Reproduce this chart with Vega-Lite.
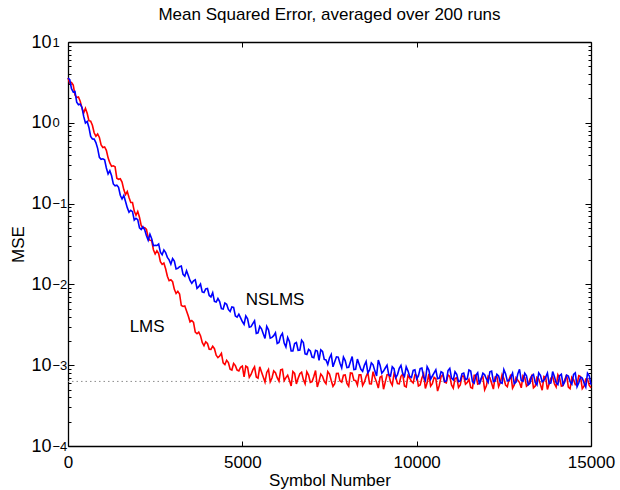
{
"$schema": "https://vega.github.io/schema/vega-lite/v6.json",
"width": 523, "height": 404,
"autosize": {"type": "none"},
"padding": {"left": 68, "top": 42, "right": 29, "bottom": 44},
"background": "white",
"config": {
 "view": {"stroke": null},
 "font": "Liberation Sans",
 "axis": {"labelFont": "Liberation Sans", "titleFont": "Liberation Sans", "labelColor": "black", "titleColor": "black", "domainColor": "black", "tickColor": "black", "grid": false, "labelFontSize": 17, "titleFontSize": 17, "titleFontWeight": "normal", "domainWidth": 1.3, "tickWidth": 1, "labelOverlap": false, "labelFlush": false, "labelBound": false}
},
"title": {"text": "Mean Squared Error, averaged over 200 runs", "fontSize": 17, "fontWeight": "normal", "font": "Liberation Sans", "color": "black", "anchor": "middle", "frame": "group", "offset": 3, "baseline": "bottom", "dy": 11},
"datasets": {
 "floor": [{"v": 0.00063}],
 "labels": [{"x": 2270, "y": 0.0030, "t": "LMS"}, {"x": 5940, "y": 0.0065, "t": "NSLMS"}],
 "curves": [
{"x":0,"lms":3.59,"nslms":3.59},{"x":100,"lms":3.16,"nslms":2.64},{"x":200,"lms":2.21,"nslms":2.44},{"x":300,"lms":2.09,"nslms":1.67},{"x":400,"lms":1.53,"nslms":1.55},{"x":500,"lms":1.51,"nslms":0.993},{"x":600,"lms":1.06,"nslms":0.877},{"x":700,"lms":0.931,"nslms":0.631},{"x":800,"lms":0.682,"nslms":0.570},{"x":900,"lms":0.659,"nslms":0.374},
{"x":1000,"lms":0.494,"nslms":0.359},{"x":1100,"lms":0.456,"nslms":0.276},{"x":1200,"lms":0.319,"nslms":0.255},{"x":1300,"lms":0.294,"nslms":0.175},{"x":1400,"lms":0.206,"nslms":0.169},{"x":1500,"lms":0.203,"nslms":0.127},{"x":1600,"lms":0.149,"nslms":0.126},{"x":1700,"lms":0.141,"nslms":0.0891},{"x":1800,"lms":0.103,"nslms":0.0826},{"x":1900,"lms":0.0809,"nslms":0.0624},
{"x":2000,"lms":0.0800,"nslms":0.0634},{"x":2100,"lms":0.0535,"nslms":0.0479},{"x":2200,"lms":0.0505,"nslms":0.0475},{"x":2300,"lms":0.0378,"nslms":0.0352},{"x":2400,"lms":0.0349,"nslms":0.0367},{"x":2500,"lms":0.0238,"nslms":0.0305},{"x":2600,"lms":0.0241,"nslms":0.0316},{"x":2700,"lms":0.0177,"nslms":0.0233},{"x":2800,"lms":0.0156,"nslms":0.0248},{"x":2900,"lms":0.0111,"nslms":0.0201},
{"x":3000,"lms":0.0108,"nslms":0.0209},{"x":3100,"lms":0.00771,"nslms":0.0155},{"x":3200,"lms":0.00762,"nslms":0.0166},{"x":3300,"lms":0.00533,"nslms":0.0133},{"x":3400,"lms":0.00470,"nslms":0.0148},{"x":3500,"lms":0.00344,"nslms":0.0112},{"x":3600,"lms":0.00339,"nslms":0.0111},{"x":3700,"lms":0.00245,"nslms":0.00891},{"x":3800,"lms":0.00232,"nslms":0.0101},{"x":3900,"lms":0.00174,"nslms":0.00794},
{"x":4000,"lms":0.00186,"nslms":0.00891},{"x":4100,"lms":0.00157,"nslms":0.00700},{"x":4200,"lms":0.00160,"nslms":0.00617},{"x":4300,"lms":0.00124,"nslms":0.00668},{"x":4400,"lms":0.00140,"nslms":0.00501},{"x":4500,"lms":0.00102,"nslms":0.00589},{"x":4600,"lms":0.00108,"nslms":0.00490},{"x":4700,"lms":0.000871,"nslms":0.00525},{"x":4800,"lms":0.000989,"nslms":0.00407},{"x":4900,"lms":0.000851,"nslms":0.00427},
{"x":5000,"lms":0.000977,"nslms":0.00347},{"x":5100,"lms":0.000977,"nslms":0.00407},{"x":5200,"lms":0.000708,"nslms":0.00295},{"x":5300,"lms":0.000875,"nslms":0.00327},{"x":5400,"lms":0.000716,"nslms":0.00248},{"x":5500,"lms":0.000955,"nslms":0.00302},{"x":5600,"lms":0.000716,"nslms":0.00245},{"x":5700,"lms":0.000813,"nslms":0.00302},{"x":5800,"lms":0.000624,"nslms":0.00216},{"x":5900,"lms":0.000851,"nslms":0.00232},
{"x":6000,"lms":0.000700,"nslms":0.00186},{"x":6100,"lms":0.000875,"nslms":0.00229},{"x":6200,"lms":0.000644,"nslms":0.00188},{"x":6300,"lms":0.000752,"nslms":0.00221},{"x":6400,"lms":0.000553,"nslms":0.00150},{"x":6500,"lms":0.000794,"nslms":0.00186},{"x":6600,"lms":0.000687,"nslms":0.00153},{"x":6700,"lms":0.000820,"nslms":0.00204},{"x":6800,"lms":0.000590,"nslms":0.00138},{"x":6900,"lms":0.000755,"nslms":0.00157},
{"x":7000,"lms":0.000624,"nslms":0.00126},{"x":7100,"lms":0.000859,"nslms":0.00153},{"x":7200,"lms":0.000635,"nslms":0.00115},{"x":7300,"lms":0.000728,"nslms":0.00148},{"x":7400,"lms":0.000590,"nslms":0.00116},{"x":7500,"lms":0.000776,"nslms":0.00123},{"x":7600,"lms":0.000548,"nslms":0.000955},{"x":7700,"lms":0.000791,"nslms":0.00127},{"x":7800,"lms":0.000641,"nslms":0.00106},{"x":7900,"lms":0.000752,"nslms":0.00126},
{"x":8000,"lms":0.000596,"nslms":0.000933},{"x":8100,"lms":0.000802,"nslms":0.00110},{"x":8200,"lms":0.000650,"nslms":0.000881},{"x":8300,"lms":0.000565,"nslms":0.00119},{"x":8400,"lms":0.000760,"nslms":0.000891},{"x":8500,"lms":0.000617,"nslms":0.00100},{"x":8600,"lms":0.000811,"nslms":0.000804},{"x":8700,"lms":0.000586,"nslms":0.00107},{"x":8800,"lms":0.000703,"nslms":0.000851},{"x":8900,"lms":0.000520,"nslms":0.00116},
{"x":9000,"lms":0.000733,"nslms":0.000794},{"x":9100,"lms":0.000622,"nslms":0.000923},{"x":9200,"lms":0.000764,"nslms":0.000759},{"x":9300,"lms":0.000565,"nslms":0.000955},{"x":9400,"lms":0.000710,"nslms":0.000700},{"x":9500,"lms":0.000589,"nslms":0.000912},{"x":9600,"lms":0.000776,"nslms":0.000785},{"x":9700,"lms":0.000537,"nslms":0.000955},{"x":9800,"lms":0.000692,"nslms":0.000724},{"x":9900,"lms":0.000603,"nslms":0.000861},
{"x":10000,"lms":0.000750,"nslms":0.000676},{"x":10100,"lms":0.000568,"nslms":0.000906},{"x":10200,"lms":0.000782,"nslms":0.000714},{"x":10300,"lms":0.000605,"nslms":0.000957},{"x":10400,"lms":0.000551,"nslms":0.000673},{"x":10500,"lms":0.000708,"nslms":0.000804},{"x":10600,"lms":0.000479,"nslms":0.000679},{"x":10700,"lms":0.000724,"nslms":0.000830},{"x":10800,"lms":0.000617,"nslms":0.000625},{"x":10900,"lms":0.000759,"nslms":0.000857},
{"x":11000,"lms":0.000569,"nslms":0.000692},{"x":11100,"lms":0.000684,"nslms":0.000828},{"x":11200,"lms":0.000531,"nslms":0.000625},{"x":11300,"lms":0.000733,"nslms":0.000783},{"x":11400,"lms":0.000582,"nslms":0.000664},{"x":11500,"lms":0.000668,"nslms":0.000871},{"x":11600,"lms":0.000519,"nslms":0.000628},{"x":11700,"lms":0.000750,"nslms":0.000752},{"x":11800,"lms":0.000596,"nslms":0.000581},{"x":11900,"lms":0.000716,"nslms":0.000798},
{"x":12000,"lms":0.000556,"nslms":0.000676},{"x":12100,"lms":0.000700,"nslms":0.000830},{"x":12200,"lms":0.000507,"nslms":0.000628},{"x":12300,"lms":0.000733,"nslms":0.000771},{"x":12400,"lms":0.000610,"nslms":0.000611},{"x":12500,"lms":0.000684,"nslms":0.000881},{"x":12600,"lms":0.000543,"nslms":0.000637},{"x":12700,"lms":0.000767,"nslms":0.000713},{"x":12800,"lms":0.000569,"nslms":0.000592},{"x":12900,"lms":0.000653,"nslms":0.000778},
{"x":13000,"lms":0.000525,"nslms":0.000646},{"x":13100,"lms":0.000708,"nslms":0.000793},{"x":13200,"lms":0.000575,"nslms":0.000573},{"x":13300,"lms":0.000741,"nslms":0.000736},{"x":13400,"lms":0.000550,"nslms":0.000611},{"x":13500,"lms":0.000676,"nslms":0.000804},{"x":13600,"lms":0.000490,"nslms":0.000622},{"x":13700,"lms":0.000708,"nslms":0.000713},{"x":13800,"lms":0.000589,"nslms":0.000592},{"x":13900,"lms":0.000724,"nslms":0.000834},
{"x":14000,"lms":0.000537,"nslms":0.000603},{"x":14100,"lms":0.000692,"nslms":0.000740},{"x":14200,"lms":0.000562,"nslms":0.000573},{"x":14300,"lms":0.000759,"nslms":0.000753},{"x":14400,"lms":0.000513,"nslms":0.000625},{"x":14500,"lms":0.000661,"nslms":0.000767},{"x":14600,"lms":0.000575,"nslms":0.000542},{"x":14700,"lms":0.000724,"nslms":0.000713},{"x":14800,"lms":0.000550,"nslms":0.000605},{"x":14900,"lms":0.000676,"nslms":0.000796},
{"x":15000,"lms":0.000525,"nslms":0.000575},
{"x":50,"lms":3.10,"nslms":3.41},{"x":150,"lms":2.93,"nslms":2.40},{"x":250,"lms":2.05,"nslms":1.80},{"x":350,"lms":1.85,"nslms":1.71},{"x":450,"lms":1.32,"nslms":1.20},{"x":550,"lms":1.31,"nslms":1.04},{"x":650,"lms":1.05,"nslms":0.678},{"x":750,"lms":0.753,"nslms":0.628},{"x":850,"lms":0.728,"nslms":0.483},{"x":950,"lms":0.532,"nslms":0.354},
{"x":1050,"lms":0.502,"nslms":0.349},{"x":1150,"lms":0.368,"nslms":0.233},{"x":1250,"lms":0.289,"nslms":0.221},{"x":1350,"lms":0.286,"nslms":0.166},{"x":1450,"lms":0.200,"nslms":0.159},{"x":1550,"lms":0.185,"nslms":0.114},{"x":1650,"lms":0.129,"nslms":0.106},{"x":1750,"lms":0.119,"nslms":0.0782},{"x":1850,"lms":0.103,"nslms":0.0796},{"x":1950,"lms":0.0718,"nslms":0.0658},
{"x":2050,"lms":0.0678,"nslms":0.0502},{"x":2150,"lms":0.0495,"nslms":0.0516},{"x":2250,"lms":0.0479,"nslms":0.0399},{"x":2350,"lms":0.0351,"nslms":0.0417},{"x":2450,"lms":0.0269,"nslms":0.0301},{"x":2550,"lms":0.0260,"nslms":0.0303},{"x":2650,"lms":0.0191,"nslms":0.0251},{"x":2750,"lms":0.0184,"nslms":0.0267},{"x":2850,"lms":0.0126,"nslms":0.0216},{"x":2950,"lms":0.0114,"nslms":0.0178},
{"x":3050,"lms":0.00869,"nslms":0.0195},{"x":3150,"lms":0.00820,"nslms":0.0158},{"x":3250,"lms":0.00548,"nslms":0.0169},{"x":3350,"lms":0.00542,"nslms":0.0126},{"x":3450,"lms":0.00406,"nslms":0.0129},{"x":3550,"lms":0.00357,"nslms":0.0103},{"x":3650,"lms":0.00257,"nslms":0.0114},{"x":3750,"lms":0.00257,"nslms":0.00938},{"x":3850,"lms":0.00191,"nslms":0.00807},{"x":3950,"lms":0.00195,"nslms":0.00881},
{"x":4050,"lms":0.00158,"nslms":0.00728},{"x":4150,"lms":0.00172,"nslms":0.00789},{"x":4250,"lms":0.00133,"nslms":0.00605},{"x":4350,"lms":0.00130,"nslms":0.00612},{"x":4450,"lms":0.00107,"nslms":0.00495},{"x":4550,"lms":0.00115,"nslms":0.00569},{"x":4650,"lms":0.000891,"nslms":0.00462},{"x":4750,"lms":0.00105,"nslms":0.00519},{"x":4850,"lms":0.000871,"nslms":0.00394},{"x":4950,"lms":0.000944,"nslms":0.00385},
{"x":5050,"lms":0.000716,"nslms":0.00320},{"x":5150,"lms":0.000944,"nslms":0.00376},{"x":5250,"lms":0.000767,"nslms":0.00300},{"x":5350,"lms":0.000955,"nslms":0.00355},{"x":5450,"lms":0.000692,"nslms":0.00252},{"x":5550,"lms":0.000826,"nslms":0.00282},{"x":5650,"lms":0.000619,"nslms":0.00214},{"x":5750,"lms":0.000885,"nslms":0.00274},{"x":5850,"lms":0.000695,"nslms":0.00221},{"x":5950,"lms":0.000807,"nslms":0.00252},
{"x":6050,"lms":0.000635,"nslms":0.00191},{"x":6150,"lms":0.000891,"nslms":0.00247},{"x":6250,"lms":0.000703,"nslms":0.00168},{"x":6350,"lms":0.000652,"nslms":0.00197},{"x":6450,"lms":0.000834,"nslms":0.00150},{"x":6550,"lms":0.000586,"nslms":0.00191},{"x":6650,"lms":0.000785,"nslms":0.00154},{"x":6750,"lms":0.000664,"nslms":0.00191},{"x":6850,"lms":0.000830,"nslms":0.00136},{"x":6950,"lms":0.000611,"nslms":0.00150},
{"x":7050,"lms":0.000724,"nslms":0.00124},{"x":7150,"lms":0.000537,"nslms":0.00150},{"x":7250,"lms":0.000776,"nslms":0.00155},{"x":7350,"lms":0.000631,"nslms":0.00118},{"x":7450,"lms":0.000832,"nslms":0.00102},{"x":7550,"lms":0.000646,"nslms":0.00136},{"x":7650,"lms":0.000589,"nslms":0.00110},{"x":7750,"lms":0.000794,"nslms":0.00126},{"x":7850,"lms":0.000617,"nslms":0.000927},{"x":7950,"lms":0.000759,"nslms":0.00114},
{"x":8050,"lms":0.000550,"nslms":0.000944},{"x":8150,"lms":0.000794,"nslms":0.00128},{"x":8250,"lms":0.000646,"nslms":0.000891},{"x":8350,"lms":0.000759,"nslms":0.00103},{"x":8450,"lms":0.000562,"nslms":0.000841},{"x":8550,"lms":0.000724,"nslms":0.00111},{"x":8650,"lms":0.000589,"nslms":0.000875},{"x":8750,"lms":0.000832,"nslms":0.00101},{"x":8850,"lms":0.000617,"nslms":0.000736},{"x":8950,"lms":0.000708,"nslms":0.00100},
{"x":9050,"lms":0.000504,"nslms":0.000845},{"x":9150,"lms":0.000762,"nslms":0.00100},{"x":9250,"lms":0.000619,"nslms":0.000733},{"x":9350,"lms":0.000780,"nslms":0.000906},{"x":9450,"lms":0.000592,"nslms":0.000762},{"x":9550,"lms":0.000728,"nslms":0.000993},{"x":9650,"lms":0.000552,"nslms":0.000728},{"x":9750,"lms":0.000745,"nslms":0.000851},{"x":9850,"lms":0.000634,"nslms":0.000703},{"x":9950,"lms":0.000762,"nslms":0.000875},
{"x":10050,"lms":0.000552,"nslms":0.000738},{"x":10150,"lms":0.000695,"nslms":0.000923},{"x":10250,"lms":0.000515,"nslms":0.000649},{"x":10350,"lms":0.000780,"nslms":0.000869},{"x":10450,"lms":0.000592,"nslms":0.000735},{"x":10550,"lms":0.000679,"nslms":0.000877},{"x":10650,"lms":0.000565,"nslms":0.000692},{"x":10750,"lms":0.000762,"nslms":0.000807},{"x":10850,"lms":0.000605,"nslms":0.000637},{"x":10950,"lms":0.000728,"nslms":0.000914},
{"x":11050,"lms":0.000519,"nslms":0.000659},{"x":11150,"lms":0.000700,"nslms":0.000771},{"x":11250,"lms":0.000569,"nslms":0.000638},{"x":11350,"lms":0.000733,"nslms":0.000800},{"x":11450,"lms":0.000610,"nslms":0.000678},{"x":11550,"lms":0.000531,"nslms":0.000849},{"x":11650,"lms":0.000750,"nslms":0.000598},{"x":11750,"lms":0.000582,"nslms":0.000804},{"x":11850,"lms":0.000684,"nslms":0.000681},{"x":11950,"lms":0.000495,"nslms":0.000760},
{"x":12050,"lms":0.000733,"nslms":0.000615},{"x":12150,"lms":0.000596,"nslms":0.000847},{"x":12250,"lms":0.000716,"nslms":0.000641},{"x":12350,"lms":0.000543,"nslms":0.000735},{"x":12450,"lms":0.000767,"nslms":0.000596},{"x":12550,"lms":0.000569,"nslms":0.000783},{"x":12650,"lms":0.000668,"nslms":0.000650},{"x":12750,"lms":0.000519,"nslms":0.000798},{"x":12850,"lms":0.000700,"nslms":0.000618},{"x":12950,"lms":0.000610,"nslms":0.000891},
{"x":13050,"lms":0.000741,"nslms":0.000630},{"x":13150,"lms":0.000550,"nslms":0.000738},{"x":13250,"lms":0.000676,"nslms":0.000598},{"x":13350,"lms":0.000525,"nslms":0.000769},{"x":13450,"lms":0.000708,"nslms":0.000569},{"x":13550,"lms":0.000575,"nslms":0.000748},{"x":13650,"lms":0.000724,"nslms":0.000650},{"x":13750,"lms":0.000501,"nslms":0.000798},{"x":13850,"lms":0.000692,"nslms":0.000604},{"x":13950,"lms":0.000589,"nslms":0.000724},
{"x":14050,"lms":0.000759,"nslms":0.000574},{"x":14150,"lms":0.000550,"nslms":0.000773},{"x":14250,"lms":0.000661,"nslms":0.000627},{"x":14350,"lms":0.000537,"nslms":0.000735},{"x":14450,"lms":0.000708,"nslms":0.000582},{"x":14550,"lms":0.000575,"nslms":0.000802},{"x":14650,"lms":0.000741,"nslms":0.000607},{"x":14750,"lms":0.000513,"nslms":0.000695},{"x":14850,"lms":0.000676,"nslms":0.000538},{"x":14950,"lms":0.000562,"nslms":0.000741}
 ]
},
"layer": [
 {
  "data": {"name": "floor"},
  "mark": {"type": "rule", "color": "#8c8c8c", "strokeDash": [1.5, 3], "strokeWidth": 1},
  "encoding": {
   "y": {"field": "v", "type": "quantitative", "scale": {"type": "log", "domain": [0.0001, 10], "nice": false},
    "axis": {"orient": "left", "values": [10, 1, 0.1, 0.01, 0.001, 0.0001], "labelExpr": "'10'", "labelFontSize": 18, "labelAlign": "left", "labelBaseline": "middle", "labelPadding": 37, "ticks": false, "tickSize": 0, "domain": true, "title": "MSE", "titleAngle": -90, "titleX": -50, "titleY": 202, "titleAlign": "center", "titleBaseline": "middle"}}
  }
 },
 {
  "data": {"name": "curves"},
  "mark": {"type": "line", "color": "#ff0000", "strokeWidth": 1.6},
  "encoding": {
   "x": {"field": "x", "type": "quantitative", "scale": {"domain": [0, 15000], "nice": false},
    "axis": {"orient": "bottom", "values": [0, 5000, 10000, 15000], "format": "d", "ticks": false, "tickSize": 0, "labelPadding": 8, "domain": true, "title": "Symbol Number", "titlePadding": 2}},
   "y": {"field": "lms", "type": "quantitative", "scale": {"type": "log", "domain": [0.0001, 10], "nice": false},
    "axis": {"orient": "left", "values": [10, 1, 0.1, 0.01, 0.001, 0.0001], "labelExpr": "datum.value > 5 ? '1' : datum.value > 0.5 ? '0' : datum.value > 0.05 ? '−1' : datum.value > 0.005 ? '−2' : datum.value > 0.0005 ? '−3' : '−4'", "labelFontSize": 13, "labelAlign": "left", "labelBaseline": "middle", "labelPadding": 16, "labelDy": -9, "ticks": false, "tickSize": 0, "domain": false, "title": null}}
  }
 },
 {
  "data": {"name": "curves"},
  "mark": {"type": "line", "color": "#0000ff", "strokeWidth": 1.6},
  "encoding": {
   "x": {"field": "x", "type": "quantitative", "scale": {"domain": [0, 15000], "nice": false},
    "axis": {"orient": "top", "values": [0, 5000, 10000, 15000], "labels": false, "ticks": true, "tickSize": -5, "domain": true, "title": null}},
   "y": {"field": "nslms", "type": "quantitative", "scale": {"type": "log", "domain": [0.0001, 10], "nice": false},
    "axis": {"orient": "right", "values": [0.0001,0.0002,0.0003,0.0004,0.0005,0.0006,0.0007,0.0008,0.0009,0.001,0.002,0.003,0.004,0.005,0.006,0.007,0.008,0.009,0.01,0.02,0.03,0.04,0.05,0.06,0.07,0.08,0.09,0.1,0.2,0.3,0.4,0.5,0.6,0.7,0.8,0.9,1,2,3,4,5,6,7,8,9,10], "labels": false, "ticks": true, "tickSize": {"condition": {"test": "abs(log(datum.value)/LN10 - round(log(datum.value)/LN10)) < 0.001", "value": -6}, "value": -3}, "domain": true, "title": null}}
  }
 },
 {
  "data": {"name": "labels"},
  "mark": {"type": "text", "fontSize": 17, "font": "Liberation Sans", "color": "black", "align": "center", "baseline": "middle"},
  "encoding": {
   "x": {"field": "x", "type": "quantitative", "scale": {"domain": [0, 15000], "nice": false},
    "axis": {"orient": "bottom", "values": [0, 5000, 10000, 15000], "labels": false, "ticks": true, "tickSize": -5, "domain": false, "title": null}},
   "y": {"field": "y", "type": "quantitative", "scale": {"type": "log", "domain": [0.0001, 10], "nice": false},
    "axis": {"orient": "left", "values": [0.0001,0.0002,0.0003,0.0004,0.0005,0.0006,0.0007,0.0008,0.0009,0.001,0.002,0.003,0.004,0.005,0.006,0.007,0.008,0.009,0.01,0.02,0.03,0.04,0.05,0.06,0.07,0.08,0.09,0.1,0.2,0.3,0.4,0.5,0.6,0.7,0.8,0.9,1,2,3,4,5,6,7,8,9,10], "labels": false, "ticks": true, "tickSize": {"condition": {"test": "abs(log(datum.value)/LN10 - round(log(datum.value)/LN10)) < 0.001", "value": -6}, "value": -3}, "domain": false, "title": null}},
   "text": {"field": "t"}
  }
 }
],
"resolve": {"axis": {"x": "independent", "y": "independent"}}
}
